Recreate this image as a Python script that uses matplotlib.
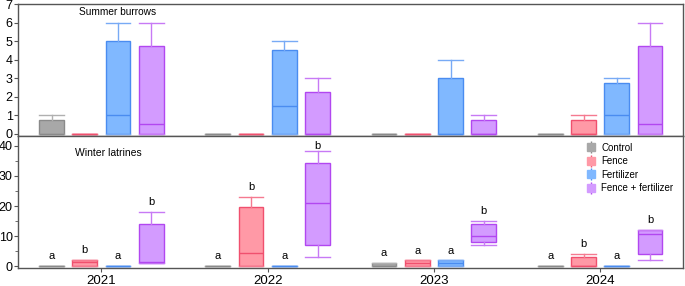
import matplotlib
matplotlib.use("Agg")
import matplotlib.pyplot as plt
from matplotlib.lines import Line2D
from matplotlib.legend_handler import HandlerTuple
import numpy as np

plt.rcParams['font.family'] = ['Liberation Sans', 'DejaVu Sans']

years = ["2021", "2022", "2023", "2024"]
treatments = ["Control", "Fence", "Fertilizer", "Fence + fertilizer"]

# Summer burrows: per year, per treatment (q1, med, q3, whislo, whishi)
summer_q1 = [[0, 0, 0, 0], [0, 0, 0, 0], [0, 0, 0, 0], [0, 0, 0, 0]]
summer_med = [[0, 0, 1, 0.5], [0, 0, 1.5, 0], [0, 0, 0, 0], [0, 0, 1, 0.5]]
summer_q3 = [[0.75, 0, 5, 4.75], [0, 0, 4.5, 2.25], [0, 0, 3, 0.75], [0, 0.75, 2.75, 4.75]]
summer_lo = [[0, 0, 0, 0], [0, 0, 0, 0], [0, 0, 0, 0], [0, 0, 0, 0]]
summer_hi = [[1, 0, 6, 6], [0, 0, 5, 3], [0, 0, 4, 1], [0, 1, 3, 6]]

# Winter latrines
winter_q1 = [[0, 0.2, 0, 1.2], [0, 0, 0, 7.1], [0, 0, 0, 7.9], [0, 0, 0, 4]]
winter_med = [[0, 1.5, 0, 1.5], [0, 4.5, 0, 21], [0, 1, 1, 10.1], [0, 0, 0, 10.7]]
winter_q3 = [[0, 2, 0, 14], [0, 19.8, 0, 34.3], [1, 1.9, 1.9, 14], [0, 3, 0, 11.9]]
winter_lo = [[0, 0, 0, 1.2], [0, 0, 0, 2.9], [0, 0, 0, 7], [0, 0, 0, 2]]
winter_hi = [[0, 2, 0, 18], [0, 23, 0, 38.3], [1, 1.9, 1.9, 15], [0, 4, 0, 11.9]]
winter_letters = [["a", "b", "a", "b"], ["a", "b", "a", "b"],
                  ["a", "a", "a", "b"], ["a", "b", "a", "b"]]

fills = ["#a8a8a8", "#ff99a6", "#80b8ff", "#d39bff"]
edges = ["#8a8a8a", "#f0506e", "#4a8cf0", "#b247f0"]
whisk = ["#b0b0b0", "#f57a90", "#78aaf5", "#c77af5"]
offsets = [-0.3, -0.1, 0.1, 0.3]
width = 0.148

fig = plt.figure(figsize=(6.85, 2.86), dpi=100)
ax1 = fig.add_axes([0.0267, 0.5245, 0.9708, 0.4615])
ax2 = fig.add_axes([0.0267, 0.062, 0.9708, 0.4625])


def draw(ax, q1, med, q3, lo, hi):
    for t in range(4):
        stats = []
        pos = []
        for y in range(4):
            stats.append(dict(q1=q1[y][t], med=med[y][t], q3=q3[y][t],
                              whislo=lo[y][t], whishi=hi[y][t], fliers=[]))
            pos.append(y + offsets[t])
        ax.bxp(stats, positions=pos, widths=width, capwidths=width,
               patch_artist=True, showfliers=False,
               boxprops=dict(facecolor=fills[t], edgecolor=edges[t], linewidth=1.0),
               medianprops=dict(color=edges[t], linewidth=1.0),
               whiskerprops=dict(color=whisk[t], linewidth=1.0),
               capprops=dict(color=whisk[t], linewidth=1.0))


draw(ax1, summer_q1, summer_med, summer_q3, summer_lo, summer_hi)
draw(ax2, winter_q1, winter_med, winter_q3, winter_lo, winter_hi)

for y in range(4):
    for t in range(4):
        ax2.text(y + offsets[t], min(winter_hi[y][t] + 3.3, 40.1), winter_letters[y][t],
                 ha='center', va='center', fontsize=8)

for ax in (ax1, ax2):
    ax.set_xlim(-0.5, 3.5)
    for s in ax.spines.values():
        s.set_color("#555555")
        s.set_linewidth(1.0)
    ax.tick_params(axis='y', labelsize=9, length=3, pad=1, color="#555555")

ax1.set_ylim(-0.12, 7)
ax1.set_yticks(range(0, 8))
ax1.set_xticks([])
ax1.text(0.15, 0.94, "Summer burrows", transform=ax1.transAxes, fontsize=7.3,
         ha='center', va='center')

ax2.set_ylim(-0.7, 43.3)
ax2.set_yticks([0, 10, 20, 30, 40])
ax2.set_yticks([5, 15, 25, 35], minor=True)
ax2.tick_params(axis='y', which='minor', length=2, color="#555555")
ax2.set_xticks(range(4))
ax2.set_xticklabels(years)
ax2.tick_params(axis='x', labelsize=9.5, length=3, pad=2, color="#555555")
ax2.text(0.085, 0.875, "Winter latrines", transform=ax2.transAxes, fontsize=7.5,
         ha='left', va='center')

handles = []
for t in range(4):
    vline = Line2D([0], [0], marker='|', color=edges[t], markersize=9,
                   markeredgewidth=1.0, linestyle='none')
    sq = Line2D([0], [0], marker='s', markerfacecolor=fills[t],
                markeredgecolor=fills[t], markersize=5.5, linestyle='none')
    handles.append((vline, sq))
leg = ax2.legend(handles, treatments, loc='upper right', bbox_to_anchor=(0.995, 1.0),
                 frameon=False, fontsize=7, handlelength=0.8, handletextpad=0.6,
                 labelspacing=0.35, borderaxespad=0.3,
                 handler_map={tuple: HandlerTuple(ndivide=1)})

fig.savefig("out.png", dpi=100)
